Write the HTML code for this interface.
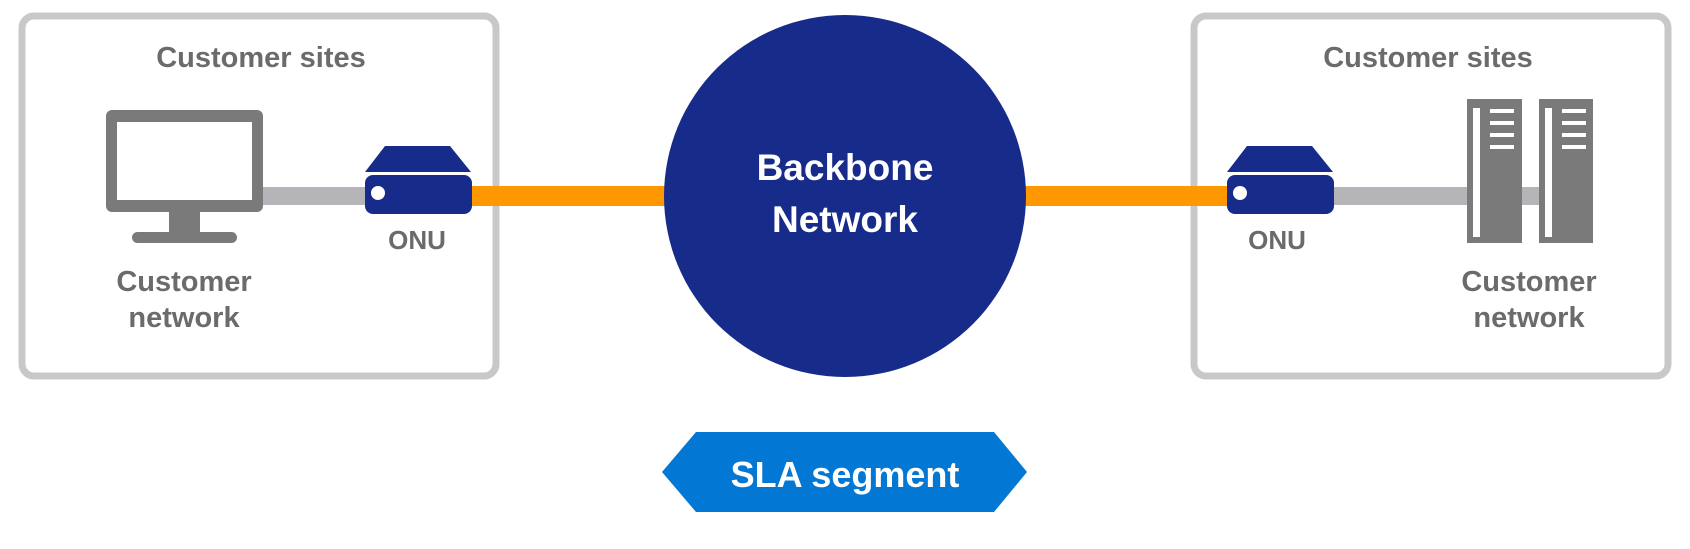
<!DOCTYPE html>
<html><head><style>
body{margin:0;width:1690px;height:544px;background:#fff;overflow:hidden}
svg text{font-family:"Liberation Sans",sans-serif;font-weight:bold}
</style></head><body>
<svg width="1690" height="544" viewBox="0 0 1690 544">
<rect x="22" y="16" width="474" height="360" rx="12" fill="#fff" stroke="#c8c8c8" stroke-width="7"/>
<rect x="1194" y="16" width="474" height="360" rx="12" fill="#fff" stroke="#c8c8c8" stroke-width="7"/>
<rect x="250" y="187" width="120" height="18" fill="#b4b4b9"/>
<rect x="1330" y="187" width="215" height="18" fill="#b4b4b9"/>
<rect x="465" y="186" width="210" height="20" fill="#ff9800"/>
<rect x="1015" y="186" width="215" height="20" fill="#ff9800"/>
<circle cx="845" cy="196" r="181" fill="#172b8b"/>
<rect x="106" y="110" width="157" height="102" rx="6" fill="#7a7a7a"/>
<rect x="117" y="122" width="135" height="78" fill="#fff"/>
<rect x="169" y="210" width="31" height="25" fill="#7a7a7a"/>
<rect x="132" y="232" width="105" height="11" rx="5.5" fill="#7a7a7a"/>
<polygon points="385,146 450,146 471,172 365,172" fill="#172b8b"/>
<rect x="365" y="175" width="107" height="39" rx="8" fill="#172b8b"/>
<circle cx="378" cy="193" r="7" fill="#fff"/>
<polygon points="1247,146 1312,146 1333,172 1227,172" fill="#172b8b"/>
<rect x="1227" y="175" width="107" height="39" rx="8" fill="#172b8b"/>
<circle cx="1240" cy="193" r="7" fill="#fff"/>
<g fill="#7a7a7a"><rect x="1467" y="99" width="55" height="144"/><rect x="1539" y="99" width="54" height="144"/></g>
<g fill="#fff">
<rect x="1473" y="108" width="7" height="129"/><rect x="1545" y="108" width="7" height="129"/>
<rect x="1490" y="109" width="24" height="4"/><rect x="1490" y="121" width="24" height="4"/><rect x="1490" y="133" width="24" height="4"/><rect x="1490" y="145" width="24" height="4"/>
<rect x="1562" y="109" width="24" height="4"/><rect x="1562" y="121" width="24" height="4"/><rect x="1562" y="133" width="24" height="4"/><rect x="1562" y="145" width="24" height="4"/>
</g>
<polygon points="696,432 994,432 1027,472 994,512 696,512 662,472" fill="#0277d3"/>
<g fill="#6b6b6e" text-anchor="middle" font-size="29">
<text x="261" y="67">Customer sites</text>
<text x="1428" y="67">Customer sites</text>
<text x="184" y="291">Customer</text><text x="184" y="327">network</text>
<text x="1529" y="291">Customer</text><text x="1529" y="327">network</text>
<text x="417" y="249" font-size="26">ONU</text>
<text x="1277" y="249" font-size="26">ONU</text>
</g>
<g fill="#fff" text-anchor="middle" font-size="37">
<text x="845" y="180">Backbone</text>
<text x="845" y="232">Network</text>
<text x="845" y="487" font-size="36">SLA segment</text>
</g>
</svg>
</body></html>
